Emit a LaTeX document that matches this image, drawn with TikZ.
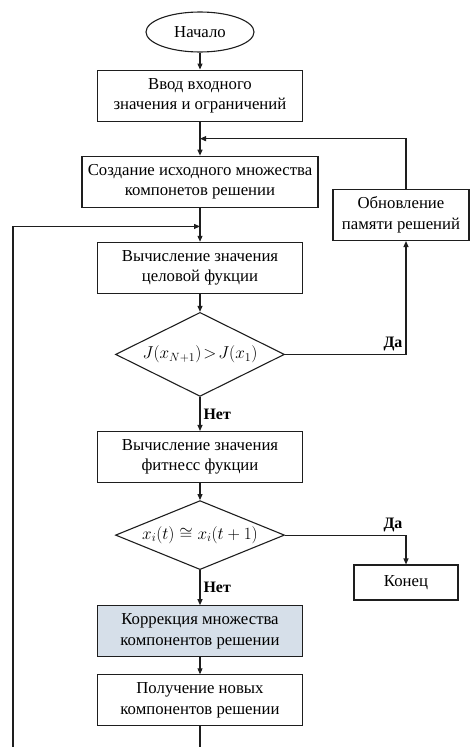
\documentclass[tikz,border=0pt]{standalone}
\usepackage{fontspec}
\setmainfont{Liberation Serif}
\usetikzlibrary{arrows.meta, calc, positioning, shapes.geometric}
\definecolor{linecol}{RGB}{30, 30, 30}
\definecolor{corrcol}{RGB}{214, 223, 233}
\tikzset{
  blk/.style   = {draw=linecol, line width=1.1bp, align=center,
                  font=\fontsize{16.8}{20.5}\selectfont, inner sep=2pt,
                  minimum width=205bp, minimum height=51bp},
  term/.style  = {blk, ellipse, minimum width=108bp, minimum height=40bp},
  proc/.style  = {blk},
  hot/.style   = {blk, fill=corrcol},
  qst/.style   = {draw=linecol, line width=1.1bp, diamond, aspect=2,
                  inner sep=0pt, minimum width=169bp, minimum height=84bp},
  formula/.style = {font=\fontsize{17}{20}\selectfont, inner sep=0pt},
  ans/.style   = {font=\fontsize{16}{16}\selectfont\bfseries, inner sep=3pt},
  flow/.style  = {-{Triangle[length=6bp, width=5bp]}, draw=linecol,
                  line width=1.1bp},
}
\begin{document}
\begin{tikzpicture}[x=1bp, y=-1bp]
  \useasboundingbox (0,0) rectangle (470,747);

  \node[term] (start) at (200,32) {Начало};

  \node[proc, below=17bp of start] (input)
       {Ввод входного\\значения и ограничений};
  \draw[flow] (start) -- (input);

  \node[proc, below=34bp of input, minimum width=236bp] (create)
       {Создание исходного множества\\компонетов решении};
  \draw[flow] (input) -- (create);
  \coordinate (join1) at ($(input.south)!0.5!(create.north)$);

  \node[proc, below=34bp of create] (eval)
       {Вычисление значения\\целовой фукции};
  \draw[flow] (create) -- (eval);
  \coordinate (join2) at ($(create.south)!0.55!(eval.north)$);

  \node[qst, below=18bp of eval,
        label={[formula]center:$J(x_{N+1})\!>\!J(x_1)$}] (cmp1) {};
  \draw[flow] (eval) -- (cmp1);

  %% ---------------- memory update branch ----------------
  \node[proc, minimum width=136bp] (upd) at (401,215)
       {Обновление\\памяти решений};
  \draw[flow] (cmp1.east) -| node[ans, pos=0.5, above left] {Да}
       ([xshift=5bp]upd.south);
  \draw[flow] ([xshift=5bp]upd.north) |- (join1);

  \node[proc, below=34bp of cmp1] (fit)
       {Вычисление значения\\фитнесс фукции};
  \draw[flow] (cmp1) -- node[ans, right] {Нет} (fit);

  \node[qst, below=17bp of fit, minimum height=69bp,
        label={[formula]center:$x_i(t)\cong x_i(t+1)$}] (cmp2) {};
  \draw[flow] (fit) -- (cmp2);

  \node[proc, minimum width=104bp, minimum height=35bp] (end) at (406,582.5)
       {Конец};
  \draw[flow] (cmp2.east) -| node[ans, pos=0.5, above left] {Да} (end);

  \node[hot, below=35bp of cmp2] (corr)
       {Коррекция множества\\компонентов решении};
  \draw[flow] (cmp2) -- node[ans, right] {Нет} (corr);

  \node[proc, below=17bp of corr] (newc)
       {Получение новых\\компонентов решении};
  \draw[flow] (corr) -- (newc);

  %% ---------------- back to the evaluation ----------------
  \coordinate (back) at (13,765);
  \draw[flow] (newc.south) |- (back) |- (join2);

\end{tikzpicture}
\end{document}
